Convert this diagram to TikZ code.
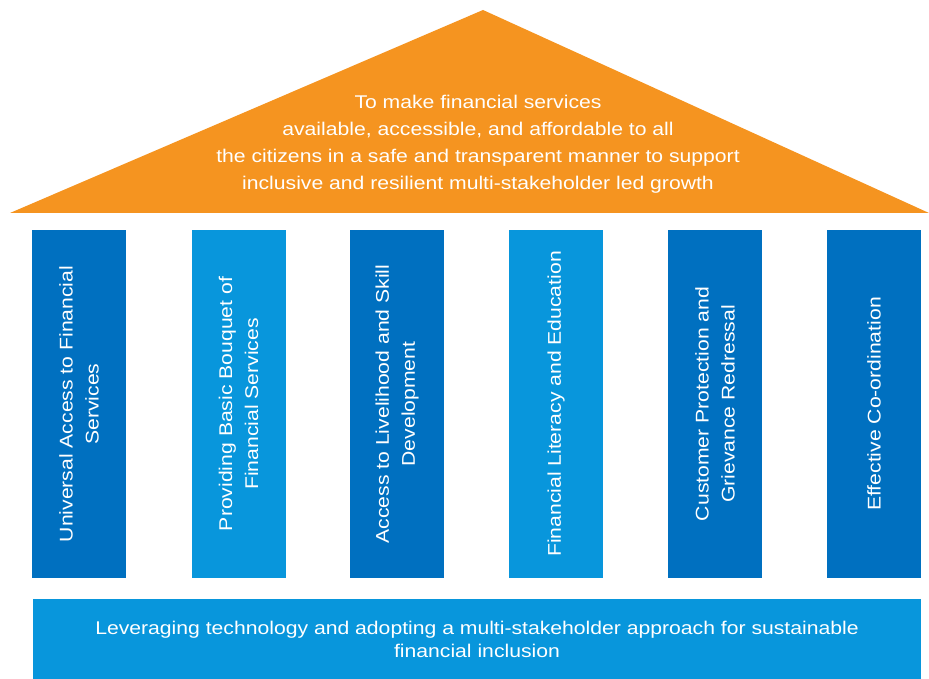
\documentclass[tikz,border=0pt]{standalone}
\usepackage{fontspec}
\setmainfont[FakeStretch=1.15]{Liberation Sans}
\usetikzlibrary{positioning}

\definecolor{roof}{RGB}{245,148,32}
\definecolor{darkblue}{RGB}{0,112,192}
\definecolor{lightblue}{RGB}{8,150,220}
\tikzset{
  pillar/.style={rectangle, minimum width=348pt, minimum height=94pt, text=white, rotate=90, align=center, font=\fontsize{18.4}{26}\selectfont, inner sep=0pt},
}

\begin{document}
\begin{tikzpicture}[x=1pt, y=1pt]
    \useasboundingbox (0,0) rectangle (929,679);
    % Roof
    \fill[roof] (10,466) -- (483,669) -- (929,466) -- cycle;
    \node (goal) [text=white, align=center, font=\fontsize{18.4}{27}\selectfont] at (478,535) {To make financial services\\available, accessible, and affordable to all\\the citizens in a safe and transparent manner to support\\inclusive and resilient multi-stakeholder led growth};
    % Pillars
    \node (access) [pillar, fill=darkblue] at (79,275) {Universal Access to Financial\\Services};
    \node (bouquet) [pillar, fill=lightblue] at (238.5,275) {Providing Basic Bouquet of\\Financial Services};
    \node (livelihood) [pillar, fill=darkblue] at (397,275) {Access to Livelihood and Skill\\Development};
    \node (literacy) [pillar, fill=lightblue] at (556,275) {Financial Literacy and Education};
    \node (protection) [pillar, fill=darkblue] at (715,275) {Customer Protection and\\Grievance Redressal};
    \node (coord) [pillar, fill=darkblue] at (874,275) {Effective Co-ordination};
    % Base
    \node (base) [rectangle, fill=lightblue, minimum width=888pt, minimum height=80pt, text=white, align=center, font=\fontsize{18.4}{23}\selectfont] at (477,40) {Leveraging technology and adopting a multi-stakeholder approach for sustainable\\financial inclusion};
\end{tikzpicture}
\end{document}
